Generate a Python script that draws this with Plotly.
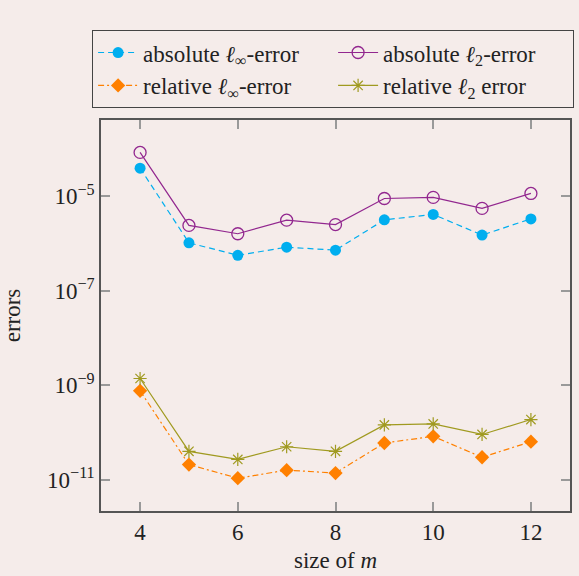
import plotly.graph_objects as go

m_sizes = [4, 5, 6, 7, 8, 9, 10, 11, 12]
abs_linf = [3.9e-5, 1.03e-6, 5.6e-7, 8.3e-7, 7.2e-7, 3.15e-6, 4.1e-6, 1.5e-6, 3.3e-6]
abs_l2 = [8.4e-5, 2.4e-6, 1.6e-6, 3.1e-6, 2.5e-6, 8.9e-6, 9.4e-6, 5.5e-6, 1.14e-5]
rel_linf = [7.6e-10, 2.1e-11, 1.08e-11, 1.6e-11, 1.39e-11, 6.0e-11, 8.3e-11, 3.0e-11, 6.4e-11]
rel_l2 = [1.39e-9, 4.0e-11, 2.7e-11, 5.0e-11, 4.0e-11, 1.45e-10, 1.52e-10, 9.1e-11, 1.88e-10]

x_ticks = [4, 6, 8, 10, 12]
y_tickvals = [1e-11, 1e-9, 1e-7, 1e-5]
y_ticktext = ["10<sup>−11</sup>", "10<sup>−9</sup>", "10<sup>−7</sup>", "10<sup>−5</sup>"]

names = ["absolute <i>ℓ</i><sub>∞</sub>-error", "absolute <i>ℓ</i><sub>2</sub>-error",
         "relative <i>ℓ</i><sub>∞</sub>-error", "relative <i>ℓ</i><sub>2</sub> error"]

BG = "#f5ecea"
FONT = "Liberation Serif"

fig = go.Figure()
fig.add_trace(go.Scatter(x=m_sizes, y=abs_linf, name=names[0], mode="lines+markers",
                         line=dict(color="#00aeef", width=1.2, dash="6px,4px"),
                         marker=dict(symbol="circle", size=11, color="#00aeef")))
fig.add_trace(go.Scatter(x=m_sizes, y=abs_l2, name=names[1], mode="lines+markers",
                         line=dict(color="#92278f", width=1.2),
                         marker=dict(symbol="circle-open", size=12, color="#92278f",
                                     line=dict(width=1.3))))
fig.add_trace(go.Scatter(x=m_sizes, y=rel_linf, name=names[2], mode="lines+markers",
                         line=dict(color="#ff8000", width=1.2, dash="6px,3px,2px,3px"),
                         marker=dict(symbol="diamond", size=11, color="#ff8000")))
fig.add_trace(go.Scatter(x=m_sizes, y=rel_l2, name=names[3], mode="lines+markers",
                         line=dict(color="#a09a20", width=1.2),
                         marker=dict(symbol="asterisk-open", size=11, color="#a09a20",
                                     line=dict(width=1.2, color="#a09a20"))))

axis_common = dict(showgrid=False, zeroline=False, showline=True, linecolor="#555",
                   linewidth=1.5, mirror="ticks", ticks="inside", ticklen=9,
                   tickcolor="#999", tickwidth=1.5,
                   tickfont=dict(family=FONT, size=23, color="#222"))

fig.update_layout(
    width=579, height=576,
    paper_bgcolor=BG, plot_bgcolor=BG,
    margin=dict(l=101, r=7, t=120, b=65),
    font=dict(family=FONT, size=22, color="#222"),
    xaxis=dict(range=[3.2, 12.8], tickvals=x_ticks,
               title=dict(text="size of <i>m</i>", font=dict(family=FONT, size=23), standoff=8),
               **axis_common),
    yaxis=dict(type="log", range=[-11.66, -3.39], tickvals=y_tickvals, ticktext=y_ticktext,
               title=dict(text="errors", font=dict(family=FONT, size=23), standoff=22),
               **axis_common),
    legend=dict(orientation="h", x=-0.019, xanchor="left", y=1.23, yanchor="top",
                entrywidth=185, entrywidthmode="pixels", tracegroupgap=0,
                bgcolor=BG, bordercolor="#444", borderwidth=1,
                font=dict(family=FONT, size=23, color="#222"), itemwidth=40),
)

fig.write_html("out.html")
